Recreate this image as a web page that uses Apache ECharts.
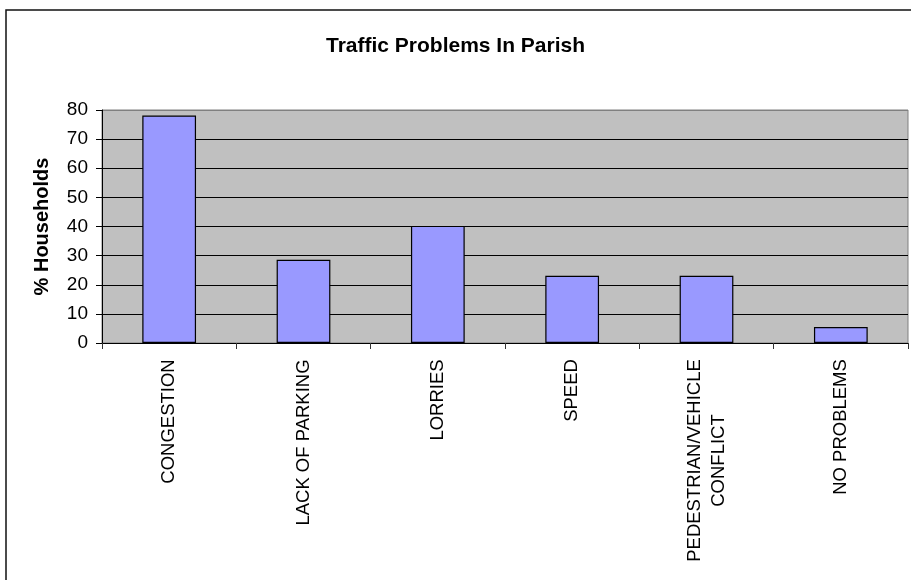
<!DOCTYPE html>
<html>
<head>
<meta charset="utf-8">
<script src="https://cdn.jsdelivr.net/npm/echarts@6/dist/echarts.min.js"></script>
<style>html,body{margin:0;padding:0;background:#fff;}#c{width:911px;height:580px;}</style>
</head>
<body>
<div id="c"></div>
<script>
var categories = ['CONGESTION', 'LACK OF PARKING', 'LORRIES', 'SPEED', 'PEDESTRIAN/VEHICLE\nCONFLICT', 'NO PROBLEMS'];
var values = [78.1, 28.6, 40.2, 23.1, 23.1, 5.5];
var yTicks = [0, 10, 20, 30, 40, 50, 60, 70, 80];
var titleText = 'Traffic Problems In Parish';
var yName = '% Households';

var font = 'Arial, "Liberation Sans", sans-serif';
var xFontSize = 18.5;
var measureCtx = document.createElement('canvas').getContext('2d');
measureCtx.font = xFontSize + 'px ' + font;
function textWidth(s) { return Math.ceil(measureCtx.measureText(s).width); }

var chart = echarts.init(document.getElementById('c'), null, {renderer: 'canvas'});
var splitColors = yTicks.map(function (t, i) { return i === yTicks.length - 1 ? '#808080' : '#000000'; });

var richStyles = {};
categories.forEach(function (cat, idx) {
  var lines = cat.split('\n');
  var w = Math.max.apply(null, lines.map(textWidth));
  richStyles['c' + idx] = {fontFamily: font, fontSize: xFontSize, color: '#000', lineHeight: 24, width: w, align: 'center'};
});

chart.setOption({
  backgroundColor: '#ffffff',
  animation: false,
  title: {
    text: titleText,
    left: 'center',
    top: 31,
    textStyle: {fontFamily: font, fontSize: 21, fontWeight: 'bold', color: '#000'}
  },
  graphic: [{
    type: 'rect',
    shape: {x: 6, y: 10, width: 930, height: 600},
    style: {fill: 'none', stroke: '#111', lineWidth: 1.5},
    silent: true,
    z: -1
  }],
  grid: {
    left: 102, right: 3, top: 110, bottom: 237,
    show: true,
    backgroundColor: '#C0C0C0',
    borderColor: '#808080',
    borderWidth: 1,
    containLabel: false
  },
  xAxis: {
    type: 'category',
    data: categories,
    axisLine: {show: true, lineStyle: {color: '#000', width: 1}},
    axisTick: {show: true, alignWithLabel: false, length: 6, lineStyle: {color: '#333'}},
    axisLabel: {
      interval: 0,
      rotate: 90,
      margin: 16,
      fontFamily: font,
      fontSize: xFontSize,
      color: '#000',
      lineHeight: 24,
      formatter: function (v, idx) {
        return v.split('\n').map(function (s) { return '{c' + idx + '|' + s + '}'; }).join('\n');
      },
      rich: richStyles
    },
    splitLine: {show: false}
  },
  yAxis: {
    type: 'value',
    min: 0,
    max: 80,
    interval: 10,
    name: yName,
    nameLocation: 'middle',
    nameRotate: 90,
    nameGap: 50,
    nameTextStyle: {fontFamily: font, fontSize: 20, fontWeight: 'bold', color: '#000'},
    axisLine: {show: true, lineStyle: {color: '#000', width: 1}},
    axisTick: {show: true, inside: false, length: 6, lineStyle: {color: '#000'}},
    axisLabel: {margin: 14, fontFamily: font, fontSize: 19, color: '#000'},
    splitLine: {show: true, lineStyle: {color: splitColors, width: 1}}
  },
  series: [{
    type: 'bar',
    data: values,
    barWidth: '40%',
    itemStyle: {color: '#9999FF', borderColor: '#000', borderWidth: 1.2}
  }]
});
</script>
</body>
</html>
